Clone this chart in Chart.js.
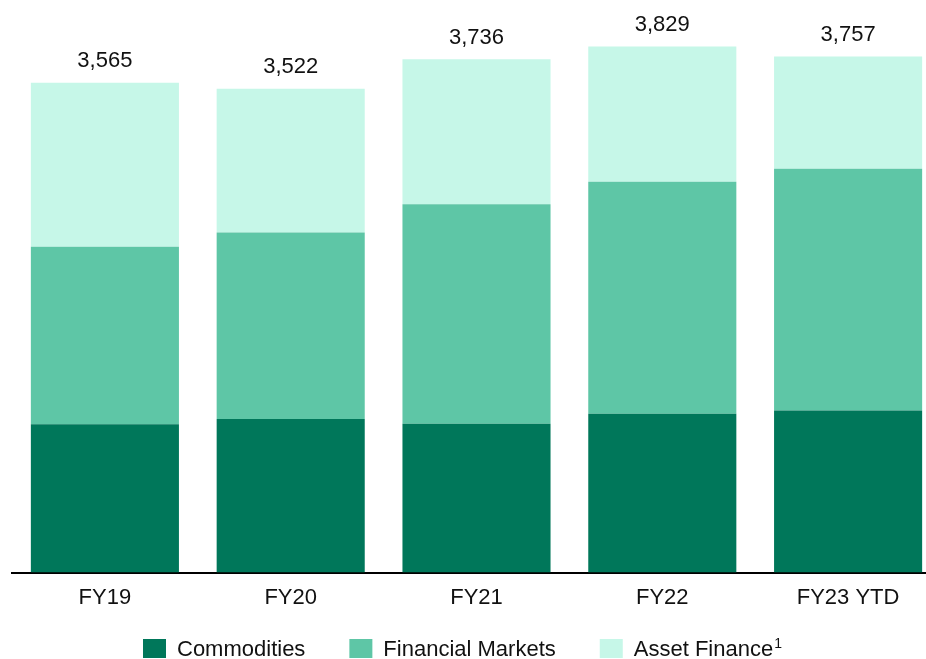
<!DOCTYPE html>
<html>
<head>
<meta charset="utf-8">
<script src="https://cdn.jsdelivr.net/npm/chart.js@4"></script>
<style>
  body { margin: 0; background: #fff; overflow: hidden; }
  #wrap { position: relative; width: 942px; height: 659px; }
</style>
</head>
<body>
<div id="wrap"><canvas id="chart"></canvas></div>
<script>
const categories = ['FY19', 'FY20', 'FY21', 'FY22', 'FY23 YTD'];
const commodities = [1079, 1118, 1084, 1157, 1179];
const financialMarkets = [1293, 1358, 1596, 1688, 1760];
const assetFinance = [1193, 1046, 1056, 984, 818];
const totals = [3565, 3522, 3736, 3829, 3757];
const seriesNames = ['Commodities', 'Financial Markets', 'Asset Finance'];
const seriesNotes = ['', '', '1'];
const colors = ['#00775a', '#5ec6a6', '#c6f7e8'];

const FONT = "'Liberation Sans', Arial, sans-serif";

// totals above each stack
const totalLabels = {
    id: 'totalLabels',
    afterDatasetsDraw(chart) {
        const ctx = chart.ctx;
        const top = chart.getDatasetMeta(chart.data.datasets.length - 1);
        ctx.save();
        ctx.font = '22px ' + FONT;
        ctx.fillStyle = '#111';
        ctx.textAlign = 'center';
        ctx.textBaseline = 'alphabetic';
        top.data.forEach((bar, i) => {
            ctx.fillText(totals[i].toLocaleString('en-US'), bar.x, bar.y - 15.5);
        });
        ctx.restore();
    }
};

// legend drawn by hand so spacing matches
const customLegend = {
    id: 'customLegend',
    afterDraw(chart) {
        const ctx = chart.ctx;
        ctx.save();
        ctx.textBaseline = 'alphabetic';
        let x = 143;
        seriesNames.forEach((name, i) => {
            ctx.fillStyle = colors[i];
            ctx.fillRect(x, 639, 23, 19);
            x += 23 + 11;
            ctx.fillStyle = '#111';
            ctx.font = '22px ' + FONT;
            ctx.fillText(name, x, 656);
            x += ctx.measureText(name).width;
            if (seriesNotes[i]) {
                ctx.font = '14px ' + FONT;
                ctx.fillText(seriesNotes[i], x + 1, 648);
                x += ctx.measureText(seriesNotes[i]).width + 1;
            }
            x += 44;
        });
        ctx.restore();
    }
};

new Chart(document.getElementById('chart'), {
    type: 'bar',
    data: {
        labels: categories,
        datasets: [commodities, financialMarkets, assetFinance].map((d, i) => ({
            label: seriesNames[i],
            data: d,
            backgroundColor: colors[i],
            borderWidth: 0,
            barPercentage: 0.797,
            categoryPercentage: 1
        }))
    },
    options: {
        responsive: true,
        maintainAspectRatio: false,
        animation: false,
        layout: { padding: { top: 23, left: 12, right: 1, bottom: 36 } },
        plugins: {
            legend: { display: false },
            tooltip: { enabled: false }
        },
        scales: {
            x: {
                stacked: true,
                grid: { display: false, drawTicks: false },
                border: { color: '#000', width: 2 },
                ticks: { color: '#111', font: { family: FONT, size: 22 }, padding: 12 }
            },
            y: {
                stacked: true,
                display: false,
                min: 0,
                max: 4000
            }
        }
    },
    plugins: [totalLabels, customLegend]
});
</script>
</body>
</html>
